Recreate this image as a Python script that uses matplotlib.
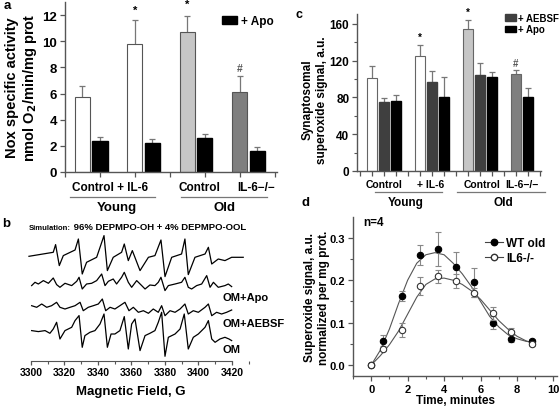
import matplotlib
matplotlib.use("Agg")
import matplotlib.pyplot as plt
from matplotlib.patches import Patch
from matplotlib.lines import Line2D
from matplotlib.ticker import MultipleLocator

plt.rcParams['font.family'] = ['Liberation Sans', 'DejaVu Sans']
plt.rcParams['font.weight'] = 'bold'
plt.rcParams['axes.labelweight'] = 'bold'

W, H = 560, 410

# ---- panel a: Nox specific activity (pairs: no inhibitor / + Apo)
a_groups = ['Control', '+ IL-6', 'Old control', 'IL-6-/-']
a_mean = [5.73, 9.77, 10.7, 6.15]
a_sem = [0.83, 1.83, 1.25, 1.2]
a_apo_mean = [2.4, 2.2, 2.6, 1.6]
a_apo_sem = [0.25, 0.36, 0.27, 0.35]

# ---- panel c: synaptosomal superoxide (none / + AEBSF / + Apo)
c_mean = [101, 125, 154.5, 105.5]
c_sem = [13, 12, 9.5, 4.5]
c_aebsf_mean = [75, 97, 104.5]
c_aebsf_sem = [4, 12, 13.5]
c_apo_mean = [76, 80.5, 102, 80.5]
c_apo_sem = [7, 21.5, 5.5, 9.5]

# ---- panel b: EPR spectra (field in G, signal in arbitrary units)
sim_field = [3298.8, 3313.3, 3314.7, 3316.9, 3319.3, 3326.3, 3328.3, 3330.6, 3333.2,
             3339.2, 3343.6, 3345.6, 3349.1, 3354.1, 3355.7, 3358.1, 3360.5, 3365.1,
             3370.1, 3374.0, 3377.6, 3380.0, 3384.0, 3389.9, 3391.9, 3393.9, 3397.9,
             3403.9, 3405.9, 3407.9, 3411.8, 3415.8, 3419.8, 3426.7]
sim_sig = [1, 5, 12.7, -8.3, 1.7, 7.3, 18.3, -16.7, -5, 0, 21.7, -13.3, 0, 5, 13.3,
           -3.3, 6.7, -13.3, 0, 1.7, 17.3, -19.3, 0, 3.3, 18.3, -17.3, 0, 3.3, 10,
           -6.7, -1.7, -3.3, 0, 0]

apo_field = [3300.4, 3302.4, 3304.4, 3307.4, 3310.4, 3313.3, 3315.3, 3317.3, 3320.3,
             3324.3, 3327.3, 3328.7, 3330.6, 3333.2, 3336.2, 3339.2, 3342.2, 3344.2,
             3346.2, 3349.1, 3351.1, 3354.1, 3355.7, 3358.1, 3360.1, 3363.1, 3366.1,
             3368.1, 3371.0, 3374.0, 3376.0, 3377.6, 3380.0, 3382.0, 3386.0, 3389.9,
             3391.9, 3393.9, 3395.9, 3398.9, 3401.9, 3404.9, 3406.9, 3408.9, 3411.8,
             3415.8, 3417.8, 3419.8]
apo_sig = [-2.3, 1, -0.7, 2.7, 0, 5.3, -1.3, -4, 0, -2.3, 2, 6, -5.7, -0.7, 0, 2.7,
           9.3, -2.3, 2, 4.3, -0.7, 6, 11, 1, -4, 2.7, -2.3, -5.7, -1.7, -2.3, 1, 6,
           -7.3, -2.3, -0.7, 1, 6, -4, -5.7, -2.3, -0.7, 7.7, -4, 1, -4, -2.3, -0.7, -3.3]

aebsf_field = [3300.4, 3303.4, 3306.4, 3309.4, 3312.3, 3315.3, 3317.3, 3320.3, 3323.3,
               3326.3, 3329.3, 3331.2, 3334.2, 3337.2, 3340.2, 3342.6, 3344.6, 3347.2,
               3350.1, 3353.1, 3356.1, 3358.5, 3361.1, 3364.1, 3367.1, 3370.1, 3373.0,
               3376.0, 3378.0, 3380.0, 3383.0, 3386.0, 3389.0, 3391.9, 3393.9, 3396.9,
               3399.9, 3403.9, 3405.9, 3407.9, 3410.8, 3413.8, 3416.8, 3419.8]
aebsf_sig = [3.3, 1.7, 5, 1.7, 3.3, 6.7, 1.7, 0, 1.7, 3.3, 6.7, -1.7, 1.7, 3.3, 5, 10,
             -1.7, 1.7, 0, 3.3, 6.7, -1.7, 1.7, -3.3, -1.7, -4.3, 0, -3.3, 3.3, -6.7,
             -1.7, -3.3, 0, 5, -5, -1.7, -3.3, 1.7, 5, -6.7, -3.3, -5, -3.3, -1]

om_field = [3300.4, 3304.4, 3308.4, 3311.3, 3313.3, 3315.3, 3317.3, 3320.3, 3324.3,
            3326.3, 3328.7, 3330.6, 3332.2, 3335.2, 3338.2, 3341.2, 3343.6, 3345.6,
            3347.8, 3350.1, 3353.1, 3355.7, 3358.1, 3360.1, 3362.1, 3365.1, 3368.1,
            3371.0, 3374.0, 3376.0, 3378.0, 3380.0, 3382.0, 3386.0, 3389.0, 3391.5,
            3393.9, 3396.9, 3399.9, 3403.9, 3405.9, 3407.9, 3409.9, 3412.8, 3415.8,
            3418.2, 3419.8]
om_sig = [0.7, -0.3, 0.7, -2, 2.3, 9, -7.7, 0.7, 4, 10.7, 15.7, -16, -4.3, -1, 0.7,
          7.3, 17.3, -16, -2.7, -2.7, 0.7, 14.7, -17.7, 7.3, 12.3, -19.3, -4.3, -2,
          0.7, 9, 19, -25, -6, -2.7, 2.3, 17.3, -17.7, -6, -2.7, 4, 10.7, -7.7, -11,
          -7.7, -6, -7.7, -9.3]

# ---- panel d: superoxide kinetics
d_time = [0, 0.67, 1.67, 2.67, 3.67, 4.67, 5.67, 6.67, 7.67, 8.8]
wt_val = [0, 0.056, 0.163, 0.259, 0.273, 0.231, 0.195, 0.100, 0.062, 0.057]
wt_err = [0, 0.015, 0.011, 0.024, 0.04, 0.035, 0.034, 0.015, 0.008, 0.005]
ko_val = [0, 0.038, 0.083, 0.186, 0.209, 0.198, 0.171, 0.122, 0.079, 0.049]
ko_err = [0, 0.006, 0.017, 0.022, 0.015, 0.017, 0.01, 0.015, 0.008, 0.004]
fit_time = [0, 0.5, 1, 1.5, 2, 2.5, 3, 3.5, 4, 4.5, 5, 5.5, 6, 6.5, 7, 7.5, 8, 8.5, 8.8]
wt_fit = [0, 0.035, 0.085, 0.145, 0.2, 0.24, 0.26, 0.265, 0.26, 0.24, 0.215, 0.185,
          0.15, 0.115, 0.09, 0.072, 0.062, 0.056, 0.054]
ko_fit = [0, 0.022, 0.048, 0.08, 0.12, 0.16, 0.19, 0.203, 0.205, 0.2, 0.19, 0.175,
          0.155, 0.13, 0.105, 0.085, 0.068, 0.057, 0.053]

fig = plt.figure(figsize=(5.6, 4.1), dpi=100)


def px_axes(left, top, right, bottom):
    return fig.add_axes([left / W, 1 - bottom / H, (right - left) / W, (bottom - top) / H])


def ftext(x, y, s, **kw):
    kw.setdefault('ha', 'center')
    kw.setdefault('va', 'center')
    return fig.text(x / W, 1 - y / H, s, **kw)


def hline(x0, x1, y):
    fig.add_artist(Line2D([x0 / W, x1 / W], [1 - y / H, 1 - y / H],
                          color='#777777', lw=0.9, transform=fig.transFigure))


def style_axes(ax, size):
    for s in ['top', 'right']:
        ax.spines[s].set_visible(False)
    for s in ['left', 'bottom']:
        ax.spines[s].set_color('#555555')
        ax.spines[s].set_linewidth(1.0)
    ax.tick_params(direction='out', length=3.5, width=0.9, color='#555555',
                   labelsize=size, pad=2)
    ax.tick_params(which='minor', direction='out', length=2.2, width=0.8,
                   color='#555555')


# ================= panel a
ax = px_axes(65, 3, 277, 173)
style_axes(ax, 9.5)
pos = [0.5 + 1.5 * i for i in range(4)]
main_col = ['white', 'white', '#c6c6c6', '#7f7f7f']
ax.errorbar(pos, a_mean, yerr=a_sem, fmt='none', ecolor='#777777', elinewidth=0.9,
            capsize=2.5, capthick=0.9, zorder=1)
ax.bar(pos, a_mean, width=0.43, color=main_col, edgecolor='#555555', lw=0.8, zorder=2)
apo_pos = [p + 0.5 for p in pos]
ax.errorbar(apo_pos, a_apo_mean, yerr=a_apo_sem, fmt='none', ecolor='#777777',
            elinewidth=0.9, capsize=2.5, capthick=0.9, zorder=1)
ax.bar(apo_pos, a_apo_mean, width=0.43, color='black', edgecolor='black', zorder=2)
ax.text(pos[1], 12.0, '*', ha='center', va='bottom', fontsize=8)
ax.text(pos[2], 12.5, '*', ha='center', va='bottom', fontsize=8)
ax.text(pos[3], 7.55, '#', ha='center', va='bottom', fontsize=7.5, color='#555555')
ax.set_xlim(0, 6.06)
ax.set_ylim(0, 13)
ax.set_xticks(range(7))
ax.set_xticklabels([])
ax.set_yticks(range(0, 13, 2))
ax.legend(handles=[Patch(facecolor='black', edgecolor='black', label='+ Apo')],
          loc='upper left', bbox_to_anchor=(222 / W, 1 - 16 / H),
          bbox_transform=fig.transFigure, frameon=False, fontsize=8.5,
          handlelength=1.3, handleheight=0.6, handletextpad=0.3, borderpad=0,
          borderaxespad=0)
ftext(12, 88, 'Nox specific activity', rotation=90, fontsize=10.5)
ftext(30, 88, 'nmol O$_\\mathbf{2}$/min/mg prot', rotation=90, fontsize=10.5)
ftext(7, 6, 'a', fontsize=9.5)
ftext(110, 188, 'Control + IL-6', fontsize=8.5)
ftext(199, 188, 'Control', fontsize=8.5)
ftext(256, 188, 'IL-6\u2212/\u2212', fontsize=8.5)
hline(70, 155, 198)
hline(181, 267, 198)
ftext(117, 208, 'Young', fontsize=9.5)
ftext(225, 208, 'Old', fontsize=9.5)

# ================= panel c
ax = px_axes(357, 15, 541, 172)
style_axes(ax, 8.5)
grp = [1 + 4 * i for i in range(4)]
c_col = ['white', 'white', '#c6c6c6', '#7f7f7f']
ax.errorbar(grp, c_mean, yerr=c_sem, fmt='none', ecolor='#777777', elinewidth=0.9,
            capsize=2, capthick=0.9, zorder=1)
ax.bar(grp, c_mean, width=0.85, color=c_col, edgecolor='#666666', lw=0.8, zorder=2)
aeb_pos = [g + 1 for g in grp[:3]]
ax.errorbar(aeb_pos, c_aebsf_mean, yerr=c_aebsf_sem, fmt='none', ecolor='#777777',
            elinewidth=0.9, capsize=2, capthick=0.9, zorder=1)
ax.bar(aeb_pos, c_aebsf_mean, width=0.85, color='#3f3f3f', edgecolor='#3f3f3f', zorder=2)
capo_pos = [g + 2 for g in grp[:3]] + [grp[3] + 1]
ax.errorbar(capo_pos, c_apo_mean, yerr=c_apo_sem, fmt='none', ecolor='#777777',
            elinewidth=0.9, capsize=2, capthick=0.9, zorder=1)
ax.bar(capo_pos, c_apo_mean, width=0.85, color='black', edgecolor='black', zorder=2)
ax.text(grp[1], 140, '*', ha='center', va='bottom', fontsize=7)
ax.text(grp[2], 168, '*', ha='center', va='bottom', fontsize=7, clip_on=False)
ax.text(grp[3], 112, '#', ha='center', va='bottom', fontsize=7, color='#555555')
ax.set_xlim(-0.25, 15.1)
ax.set_ylim(0, 170.8)
ax.set_xticks(range(16))
ax.set_xticklabels([])
ax.set_yticks(range(0, 161, 40))
ax.yaxis.set_minor_locator(MultipleLocator(20))
ax.legend(handles=[Patch(facecolor='#3f3f3f', edgecolor='#3f3f3f', label='+ AEBSF'),
                   Patch(facecolor='black', edgecolor='black', label='+ Apo')],
          loc='upper left', bbox_to_anchor=(505 / W, 1 - 14 / H),
          bbox_transform=fig.transFigure, frameon=False, fontsize=7,
          handlelength=1.1, handleheight=0.7, handletextpad=0.25, labelspacing=0.15,
          borderpad=0, borderaxespad=0)
ftext(308, 100, 'Synaptosomal', rotation=90, fontsize=8.5)
ftext(322, 100, 'superoxide signal, a.u.', rotation=90, fontsize=8.5)
ftext(299, 15, 'c', fontsize=9)
ftext(384, 185, 'Control', fontsize=7.5)
ftext(431, 185, '+ IL-6', fontsize=7.5)
ftext(482, 185, 'Control', fontsize=7.5)
ftext(522, 185, 'IL-6\u2212/\u2212', fontsize=7.5)
hline(375, 442, 193)
hline(457, 545, 193)
ftext(406, 203, 'Young', fontsize=8.5)
ftext(503, 203, 'Old', fontsize=8.5)

# ================= panel b
ax = px_axes(22.6, 226, 248.75, 362)
for s in ['top', 'right', 'left']:
    ax.spines[s].set_visible(False)
ax.spines['bottom'].set_color('#555555')
ax.spines['bottom'].set_bounds(3300, 3420)
ax.tick_params(axis='x', direction='out', length=3, width=0.9, color='#555555',
               labelsize=7.5, pad=1.5)
ax.tick_params(axis='x', which='minor', direction='out', length=2, width=0.8,
               color='#555555')
ax.set_yticks([])
ax.set_xlim(3295, 3430)
ax.set_ylim(0, 136)
ax.set_xticks(range(3300, 3421, 20))
ax.xaxis.set_minor_locator(MultipleLocator(10))
traces = [(sim_field, sim_sig, 103.7), (apo_field, apo_sig, 77.7),
          (aebsf_field, aebsf_sig, 52), (om_field, om_sig, 29.7)]
for fld, sig, base in traces:
    ax.plot(fld, [base + v for v in sig], color='black', lw=0.9, clip_on=False)
ftext(6, 224, 'b', fontsize=9.5)
t1 = ftext(29, 229, 'Simulation:', fontsize=5.5, ha='left')
ax.annotate(' 96% DEPMPO-OH + 4% DEPMPO-OOL', xy=(1, 0), xycoords=t1,
            va='bottom', ha='left', fontsize=6.8)
ftext(223, 298, 'OM+Apo', fontsize=8, ha='left')
ftext(223, 324, 'OM+AEBSF', fontsize=8, ha='left')
ftext(223, 350, 'OM', fontsize=8, ha='left')
ftext(131, 392, 'Magnetic Field, G', fontsize=9.5)

# ================= panel d
ax = px_axes(353, 218, 557, 377)
style_axes(ax, 8)
ax.plot(fit_time, wt_fit, color='#555555', lw=0.8, zorder=1)
ax.plot(fit_time, ko_fit, color='#555555', lw=0.8, zorder=1)
ax.errorbar(d_time, wt_val, yerr=wt_err, fmt='o', ms=4.6, mfc='black', mec='black',
            mew=0.8, ecolor='#888888', elinewidth=0.8, capsize=2, zorder=2)
ax.errorbar(d_time, ko_val, yerr=ko_err, fmt='o', ms=4.6, mfc='white', mec='#333333',
            mew=0.8, ecolor='#888888', elinewidth=0.8, capsize=2, zorder=3)
ax.set_xlim(-1, 10.2)
ax.set_ylim(-0.0258, 0.349)
ax.set_xticks(range(0, 11, 2))
ax.xaxis.set_minor_locator(MultipleLocator(1))
ax.set_yticks([0, 0.1, 0.2, 0.3])
ax.yaxis.set_minor_locator(MultipleLocator(0.05))
ax.yaxis.set_major_formatter(plt.FormatStrFormatter('%.1f'))
h1 = Line2D([], [], color='#444444', lw=0.8, marker='o', ms=4.6, mfc='black',
            mec='black', label='WT old')
h2 = Line2D([], [], color='#444444', lw=0.8, marker='o', ms=4.6, mfc='white',
            mec='#333333', label='IL6-/-')
ax.legend(handles=[h1, h2], loc='upper left', bbox_to_anchor=(485 / W, 1 - 238 / H),
          bbox_transform=fig.transFigure, frameon=False, fontsize=8.5,
          handlelength=1.5, handletextpad=0.3, labelspacing=0.25, borderpad=0,
          borderaxespad=0, numpoints=1)
ax.set_xlabel('Time, minutes', fontsize=8.5, labelpad=0)
ftext(310, 298, 'Superoxide signal, a.u.', rotation=90, fontsize=8.5)
ftext(324, 298, 'normalized per mg prot.', rotation=90, fontsize=8.5)
ftext(363, 223, 'n=4', fontsize=8.5, ha='left')
ftext(305, 203, 'd', fontsize=9.5)

fig.savefig('out.png', dpi=100)
